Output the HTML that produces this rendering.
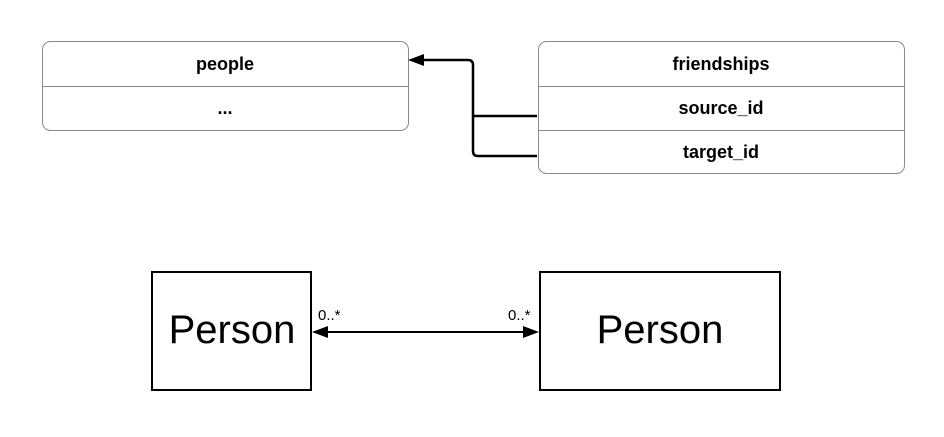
<!DOCTYPE html>
<html><head><style>body{margin:0;background:#fff}</style></head><body>
<svg width="944" height="432" xmlns="http://www.w3.org/2000/svg" font-family="Liberation Sans, sans-serif">
<rect width="944" height="432" fill="#fff"/>
<rect x="42.5" y="41.5" width="366" height="89" rx="8" fill="#fff" stroke="#8a8a8a"/>
<line x1="42" y1="86.5" x2="408" y2="86.5" stroke="#8a8a8a"/>
<text x="225" y="70" text-anchor="middle" font-size="18" font-weight="bold">people</text>
<text x="225" y="114" text-anchor="middle" font-size="18" font-weight="bold">...</text>
<rect x="538.5" y="41.5" width="366" height="132" rx="8" fill="#fff" stroke="#8a8a8a"/>
<line x1="538" y1="86.5" x2="904" y2="86.5" stroke="#8a8a8a"/>
<line x1="538" y1="130.5" x2="904" y2="130.5" stroke="#8a8a8a"/>
<text x="721" y="70" text-anchor="middle" font-size="18" font-weight="bold">friendships</text>
<text x="721" y="114" text-anchor="middle" font-size="18" font-weight="bold">source_id</text>
<text x="721" y="158" text-anchor="middle" font-size="18" font-weight="bold">target_id</text>
<path d="M537 116 H473 V65 Q473 60 468 60 H420" fill="none" stroke="#000" stroke-width="2.5"/>
<path d="M537 156 H478 Q473 156 473 151 V116" fill="none" stroke="#000" stroke-width="2.5"/>
<polygon points="408,60 424,54 424,66" fill="#000"/>
<rect x="152" y="272" width="159" height="118" fill="#fff" stroke="#000" stroke-width="2"/>
<rect x="540" y="272" width="240" height="118" fill="#fff" stroke="#000" stroke-width="2"/>
<text x="232" y="343" text-anchor="middle" font-size="40">Person</text>
<text x="660" y="343" text-anchor="middle" font-size="40">Person</text>
<line x1="318" y1="332" x2="533" y2="332" stroke="#000" stroke-width="2"/>
<polygon points="312,332 328,326 328,338" fill="#000"/>
<polygon points="539,332 523,326 523,338" fill="#000"/>
<text x="318" y="320" font-size="15">0..*</text>
<text x="508" y="320" font-size="15">0..*</text>
</svg>
</body></html>
